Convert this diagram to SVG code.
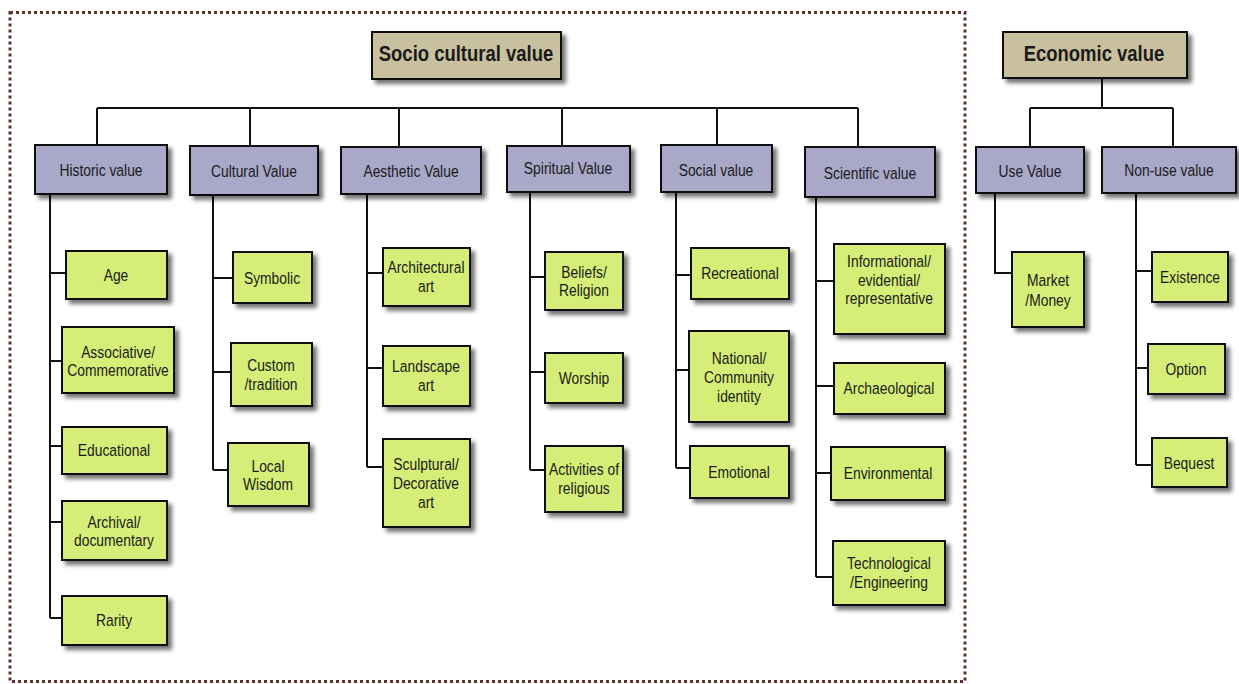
<svg xmlns="http://www.w3.org/2000/svg" width="1239" height="684" viewBox="0 0 1239 684">
<defs>
<filter id="sh" x="-20%" y="-20%" width="150%" height="150%">
<feDropShadow dx="4" dy="4" stdDeviation="2" flood-color="#000" flood-opacity="0.55"/>
</filter>
<style>
.top{fill:#c8c09e;stroke:#111;stroke-width:2;filter:url(#sh)}
.mid{fill:#a9a8c9;stroke:#111;stroke-width:2;filter:url(#sh)}
.leaf{fill:#d6ee78;stroke:#111;stroke-width:2;filter:url(#sh)}
text{font-family:"Liberation Sans",Arial,sans-serif;fill:#1a1a1a;text-anchor:middle;font-size:16.5px;transform-box:fill-box;transform-origin:center;transform:scaleX(0.84)}
.tt{font-weight:bold;font-size:22px}
.ln{fill:none;stroke:#111;stroke-width:2}
.frame{fill:none;stroke:#5c3326;stroke-width:3;stroke-dasharray:3 3}
</style>
</defs>
<rect x="0" y="0" width="1239" height="684" fill="#fff"/>
<rect class="frame" x="10" y="12.5" width="955" height="669"/>

<g id="connectors">
<path class="ln" d="M97,108 H858 M97,108 V145 M250,108 V146 M399,108 V147 M562,108 V146 M717,108 V145 M858,108 V147"/>
<path class="ln" d="M1102,78 V108 M1030,108 H1173 M1030,108 V147 M1173,108 V147"/>
<path class="ln" d="M50,194 V618 M50,273 H66 M50,361 H62 M50,446 H62 M50,522 H62 M50,618 H62"/>
<path class="ln" d="M213,195 V470 M213,278 H233 M213,372 H231 M213,470 H228"/>
<path class="ln" d="M367,194 V467 M367,273 H383 M367,368 H383 M367,467 H383"/>
<path class="ln" d="M530,192 V470 M530,277 H545 M530,372 H545 M530,470 H545"/>
<path class="ln" d="M676,192 V468 M676,275 H691 M676,370 H689 M676,468 H690"/>
<path class="ln" d="M816,197 V577 M816,281 H834 M816,386 H834 M816,473 H831 M816,577 H833"/>
<path class="ln" d="M995,193 V273 H1012"/>
<path class="ln" d="M1136,193 V465 M1136,271 H1152 M1136,368 H1148 M1136,465 H1152"/>
</g>

<g id="socio"><rect class="top" x="372" y="32" width="189" height="47"/><text class="tt" x="466" y="61">Socio cultural value</text></g>
<g id="economic"><rect class="top" x="1003" y="32" width="184" height="46"/><text class="tt" x="1094" y="61">Economic value</text></g>

<g id="historic"><rect class="mid" x="35" y="145" width="132" height="49"/><text x="101" y="176">Historic value</text></g>
<g id="cultural"><rect class="mid" x="190" y="146" width="128" height="49"/><text x="254" y="177">Cultural Value</text></g>
<g id="aesthetic"><rect class="mid" x="341" y="147" width="140" height="47"/><text x="411" y="177">Aesthetic Value</text></g>
<g id="spiritual"><rect class="mid" x="507" y="146" width="123" height="46"/><text x="568" y="174">Spiritual Value</text></g>
<g id="social"><rect class="mid" x="661" y="145" width="111" height="47"/><text x="716" y="176">Social value</text></g>
<g id="scientific"><rect class="mid" x="805" y="147" width="130" height="50"/><text x="870" y="179">Scientific value</text></g>
<g id="use"><rect class="mid" x="976" y="147" width="108" height="46"/><text x="1030" y="177">Use Value</text></g>
<g id="nonuse"><rect class="mid" x="1102" y="147" width="134" height="46"/><text x="1169" y="176">Non-use value</text></g>

<g id="age"><rect class="leaf" x="66" y="251" width="101" height="48"/><text x="116" y="281">Age</text></g>
<g id="associative"><rect class="leaf" x="62" y="327" width="112" height="66"/><text x="118" y="358">Associative/</text><text x="118" y="376">Commemorative</text></g>
<g id="educational"><rect class="leaf" x="62" y="427" width="105" height="47"/><text x="114" y="456">Educational</text></g>
<g id="archival"><rect class="leaf" x="62" y="501" width="105" height="59"/><text x="114" y="528">Archival/</text><text x="114" y="546">documentary</text></g>
<g id="rarity"><rect class="leaf" x="62" y="596" width="105" height="49"/><text x="114" y="626">Rarity</text></g>

<g id="symbolic"><rect class="leaf" x="233" y="252" width="79" height="51"/><text x="272" y="284">Symbolic</text></g>
<g id="custom"><rect class="leaf" x="231" y="343" width="81" height="63"/><text x="271" y="371">Custom</text><text x="271" y="390">/tradition</text></g>
<g id="local"><rect class="leaf" x="228" y="443" width="81" height="63"/><text x="268" y="472">Local</text><text x="268" y="490">Wisdom</text></g>

<g id="architectural"><rect class="leaf" x="383" y="248" width="87" height="58"/><text x="426" y="273">Architectural</text><text x="426" y="292">art</text></g>
<g id="landscape"><rect class="leaf" x="383" y="346" width="87" height="60"/><text x="426" y="372">Landscape</text><text x="426" y="391">art</text></g>
<g id="sculptural"><rect class="leaf" x="383" y="439" width="87" height="88"/><text x="426" y="470">Sculptural/</text><text x="426" y="489">Decorative</text><text x="426" y="508">art</text></g>

<g id="beliefs"><rect class="leaf" x="545" y="252" width="78" height="58"/><text x="584" y="278">Beliefs/</text><text x="584" y="296">Religion</text></g>
<g id="worship"><rect class="leaf" x="545" y="353" width="78" height="50"/><text x="584" y="384">Worship</text></g>
<g id="activities"><rect class="leaf" x="545" y="446" width="78" height="66"/><text x="584" y="475">Activities of</text><text x="584" y="494">religious</text></g>

<g id="recreational"><rect class="leaf" x="691" y="248" width="98" height="51"/><text x="740" y="279">Recreational</text></g>
<g id="national"><rect class="leaf" x="689" y="331" width="100" height="91"/><text x="739" y="364">National/</text><text x="739" y="383">Community</text><text x="739" y="402">identity</text></g>
<g id="emotional"><rect class="leaf" x="690" y="446" width="99" height="52"/><text x="739" y="478">Emotional</text></g>

<g id="informational"><rect class="leaf" x="834" y="244" width="111" height="90"/><text x="889" y="267">Informational/</text><text x="889" y="286">evidential/</text><text x="889" y="304">representative</text></g>
<g id="archaeological"><rect class="leaf" x="834" y="363" width="111" height="51"/><text x="889" y="394">Archaeological</text></g>
<g id="environmental"><rect class="leaf" x="831" y="447" width="114" height="53"/><text x="888" y="479">Environmental</text></g>
<g id="technological"><rect class="leaf" x="833" y="541" width="112" height="64"/><text x="889" y="569">Technological</text><text x="889" y="588">/Engineering</text></g>

<g id="market"><rect class="leaf" x="1012" y="252" width="72" height="75"/><text x="1048" y="286">Market</text><text x="1048" y="306">/Money</text></g>
<g id="existence"><rect class="leaf" x="1152" y="252" width="76" height="50"/><text x="1190" y="283">Existence</text></g>
<g id="option"><rect class="leaf" x="1148" y="344" width="77" height="50"/><text x="1186" y="375">Option</text></g>
<g id="bequest"><rect class="leaf" x="1152" y="438" width="75" height="49"/><text x="1189" y="469">Bequest</text></g>
</svg>
